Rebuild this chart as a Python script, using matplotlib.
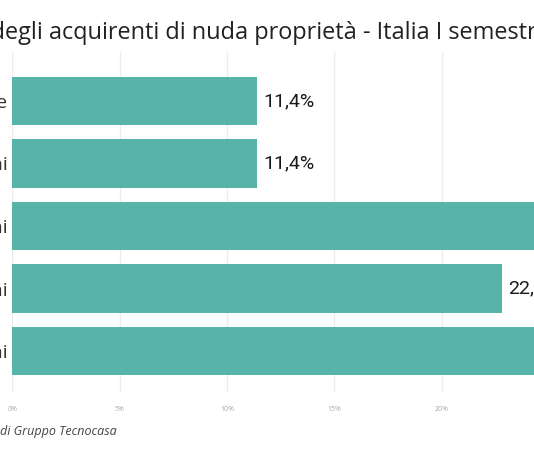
import matplotlib
matplotlib.use('Agg')
import matplotlib.pyplot as plt
import numpy as np

# dati
categorie = ['65 anni e oltre', '55-64 anni', '45-54 anni', '35-44 anni', '18-34 anni']
valori = [11.4, 11.4, 27.2, 22.8, 27.2]
tick_x = [0, 5, 10, 15, 20, 25, 30]
tick_lab = ['0%', '5%', '10%', '15%', '20%', '25%', '30%']
titolo = 'Età degli acquirenti di nuda proprietà - Italia I semestre 2023'
fonte = 'di Gruppo Tecnocasa'

W, H = 534, 462
fig = plt.figure(figsize=(W / 100, H / 100), dpi=100)

# asse che continua oltre il bordo destro (immagine ritagliata)
x0 = 12.3
px_per_unit = 21.47
ax = fig.add_axes([x0 / W, (H - 392) / H, 30 * px_per_unit / W, 340 / H])

y = np.arange(len(categorie))[::-1]
ax.barh(y, valori, height=0.77, color='#58b4a8', zorder=2)
for yi, v in zip(y, valori):
    ax.annotate(('%.1f%%' % v).replace('.', ','), (v, yi), xytext=(4.5, 0),
                textcoords='offset points', va='center', ha='left',
                fontsize=14, family='Roboto', color='#1a1a1a')

ax.set_xlim(0, 30)
ax.set_ylim(-0.656, 4.784)
ax.set_xticks(tick_x)
ax.set_xticklabels(tick_lab, fontsize=5, color='#aaaaaa', family='Open Sans')
ax.set_yticks(y)
ax.set_yticklabels(categorie, fontsize=14, color='#333333', family='Open Sans')
ax.tick_params(axis='x', length=0, pad=10)
ax.tick_params(axis='y', length=0, pad=3.6)
ax.grid(axis='x', color='#ececec', linewidth=1, zorder=0)
for s in ax.spines.values():
    s.set_visible(False)

# titolo: posizionato in modo che la "d" di "degli" sia tagliata
r = fig.canvas.get_renderer()
tmp = fig.text(0, 0, 'Età d', fontsize=16.9, family='Open Sans')
w = tmp.get_window_extent(r).width
tmp.remove()
fig.text((5 - w) / W, 1 - 33 / H, titolo, fontsize=16.9, family='Open Sans',
         color='#222222', va='center', ha='left')

fig.text(0.0, 1 - 431 / H, fonte, fontsize=9, family='Open Sans',
         style='italic', color='#444444', va='center', ha='left')

fig.savefig('out.png', dpi=100)
